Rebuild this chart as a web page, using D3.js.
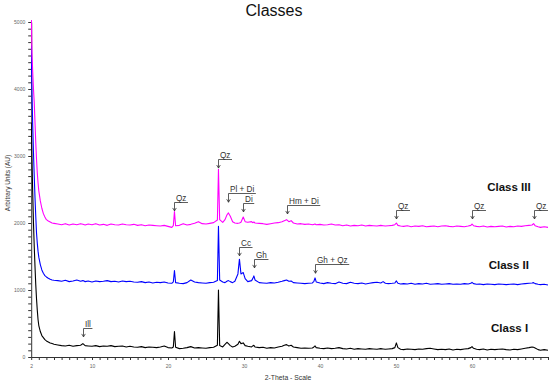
<!DOCTYPE html>
<html>
<head>
<meta charset="utf-8">
<script src="https://cdn.jsdelivr.net/npm/d3@7"></script>
<style>
html,body{margin:0;padding:0;background:#fff;}
svg{display:block;font-family:"Liberation Sans",Arial,sans-serif;}
</style>
</head>
<body>
<svg id="chart" width="550" height="385"></svg>
<script>
// 2-Theta grid (degrees)
const twoTheta = [
2.0,2.1,2.2,2.3,2.4,2.5,2.6,2.7,2.8,2.9,
3.0,3.2,3.4,3.6,3.8,4.0,4.25,4.5,4.75,5.0,
5.5,6.0,6.5,7.0,7.5,8.0,8.5,8.8,9.1,9.5,
10.0,10.5,11.0,11.5,12.0,12.5,13.0,13.5,14.0,14.5,
15.0,15.5,16.0,16.5,17.0,17.5,18.0,18.5,19.0,19.5,
20.0,20.5,20.7,20.85,21.0,21.5,22.0,22.5,23.0,23.5,
24.0,24.5,25.0,25.5,26.0,26.5,26.64,26.8,27.2,27.5,
27.75,27.95,28.2,28.5,28.8,29.2,29.4,29.6,29.9,30.15,
30.5,31.0,31.15,31.3,31.45,32.0,32.5,33.0,33.5,34.0,
34.5,35.0,35.3,35.6,35.9,36.2,36.5,37.0,37.5,38.0,
38.5,39.0,39.2,39.35,39.5,40.0,40.5,41.0,41.5,42.0,
42.5,43.0,43.5,44.0,44.5,45.0,45.5,46.0,46.5,47.0,
47.5,48.0,48.3,48.6,49.0,49.5,49.85,50.05,50.25,50.6,
51.0,51.5,52.0,52.5,53.0,53.5,54.0,54.5,55.0,55.5,
56.0,56.5,57.0,57.5,58.0,58.5,59.0,59.5,59.85,60.0,
60.2,60.6,61.0,61.5,62.0,62.5,63.0,63.5,64.0,64.5,
65.0,65.5,66.0,66.5,67.0,67.5,67.9,68.1,68.3,68.7,
69.0,69.5,70.0
];

const classIII = [
5200,4550,4250,4000,3800,3500,3200,2950,2750,2600,
2480,2330,2220,2140,2090,2050,2030,2015,2000,1995,
1985,1975,1990,1970,1985,1975,1990,1980,1970,1985,
1975,1990,1970,1980,1965,1985,1975,1970,1985,1975,
1970,1980,1965,1975,1960,1970,1965,1960,1955,1965,
1950,1935,1960,2170,1960,1965,1990,1970,1980,1995,
2020,1990,1985,1995,2005,2045,2800,2050,2010,2050,
2120,2150,2100,2020,2000,1995,2000,2010,2090,2020,
2010,2020,2005,2015,2000,1995,1990,1980,1990,2000,
2005,2020,2035,2050,2020,2035,2000,1985,1990,1980,
1985,1975,1980,1985,1975,1980,1970,1975,1985,1970,
1975,1960,1970,1955,1965,1960,1970,1955,1965,1960,
1955,1965,1960,1955,1960,1965,1975,2000,1965,1955,
1950,1960,1945,1955,1950,1960,1945,1950,1955,1945,
1955,1960,1950,1945,1955,1950,1945,1955,1965,1985,
1960,1950,1945,1955,1940,1950,1945,1950,1955,1940,
1950,1945,1955,1950,1960,1965,1970,1990,1960,1945,
1935,1945,1935
];

const classII = [
4650,3950,3450,3050,2700,2380,2100,1850,1700,1580,
1490,1380,1300,1250,1215,1195,1175,1160,1150,1145,
1140,1130,1145,1125,1135,1150,1130,1140,1125,1135,
1120,1135,1125,1130,1140,1125,1130,1120,1135,1125,
1130,1120,1115,1125,1110,1120,1105,1115,1110,1120,
1105,1100,1120,1290,1110,1100,1095,1110,1150,1120,
1110,1105,1100,1110,1115,1140,1950,1150,1120,1110,
1130,1140,1125,1110,1130,1240,1460,1240,1260,1170,
1125,1140,1170,1210,1150,1110,1105,1100,1110,1105,
1115,1130,1140,1150,1130,1135,1110,1105,1100,1095,
1100,1105,1130,1180,1120,1105,1095,1110,1100,1095,
1120,1100,1095,1115,1100,1095,1105,1090,1100,1110,
1115,1105,1125,1100,1095,1100,1105,1135,1100,1090,
1095,1090,1100,1085,1095,1090,1100,1085,1090,1095,
1085,1090,1095,1085,1090,1085,1095,1090,1100,1115,
1095,1085,1090,1080,1090,1085,1080,1090,1085,1080,
1085,1090,1080,1090,1095,1100,1105,1110,1095,1085,
1080,1085,1075
];

const classI = [
3500,2950,2450,2000,1650,1350,1080,870,700,560,
470,380,320,290,260,240,225,210,200,190,
180,170,165,175,160,170,175,200,170,165,
160,170,155,165,160,170,155,160,165,150,
160,150,145,155,140,150,145,140,150,165,
140,135,150,380,145,125,130,140,155,135,
140,135,130,140,145,175,1000,170,150,190,
220,200,170,150,160,190,235,200,210,170,
160,150,165,175,150,140,145,130,140,135,
150,160,175,185,165,175,150,140,130,135,
130,135,150,165,140,130,125,135,125,130,
140,125,120,130,115,125,120,115,125,120,
115,125,120,115,120,125,140,210,140,115,
110,120,115,110,120,115,125,130,120,110,
115,110,120,105,115,110,120,125,140,155,
130,115,110,120,105,115,110,115,120,110,
105,115,110,120,130,140,150,145,135,110,
100,110,100
];

const seriesNames = ["Class I", "Class II", "Class III"];
const seriesColors = ["#000000", "#0000ff", "#ff00ff"];
const seriesValues = [classI, classII, classIII];
const classLabelTheta = [62.5, 62.2, 62.0];
const classLabelValue = [370, 1310, 2480];

const xTickLabels = [2, 10, 20, 30, 40, 50, 60];
const yTickLabels = [0, 1000, 2000, 3000, 4000, 5000];

// phase annotations
const annLabels = ["Ill", "Qz", "Qz", "Pl + Di", "Di", "Hm + Di", "Qz", "Qz", "Qz", "Cc", "Gh", "Gh + Qz"];
const annTheta  = [8.8, 20.8, 26.6, 27.9, 29.9, 35.6, 50.0, 60.0, 68.1, 29.4, 31.3, 39.3];
const annTip    = [300, 2180, 2820, 2310, 2165, 2135, 2060, 2060, 2060, 1510, 1330, 1250];

const svg = d3.select("#chart");
const x = d3.scaleLinear().domain([2, 70]).range([31.2, 548]);
const y = d3.scaleLinear().domain([0, 5000]).range([357, 22]);

// title
svg.append("text").attr("x", 274).attr("y", 16).attr("text-anchor", "middle")
  .attr("font-size", 16).attr("fill", "#111").text("Classes");

// clip
svg.append("clipPath").attr("id", "plotclip").append("rect")
  .attr("x", 31).attr("y", 20).attr("width", 518).attr("height", 337);

// axes
const xAxis = d3.axisBottom(x).tickValues(d3.range(2, 71, 1)).tickSize(3).tickSizeOuter(0)
  .tickFormat(d => xTickLabels.includes(d) ? d : "");
const gx = svg.append("g").attr("transform", `translate(0,${y(0)})`).call(xAxis);
gx.select(".domain").attr("stroke", "#333");
gx.selectAll(".tick line").attr("stroke", "#333");
gx.selectAll(".tick text").attr("font-size", 5).attr("fill", "#666").attr("dy", "0.9em")
  .attr("font-family", "Liberation Sans, Arial, sans-serif");

const yAxis = d3.axisLeft(y).tickValues(d3.range(0, 5001, 100)).tickSize(3).tickSizeOuter(0)
  .tickFormat(d => yTickLabels.includes(d) ? d : "");
const gy = svg.append("g").attr("transform", `translate(${x(2)},0)`).call(yAxis);
gy.select(".domain").attr("stroke", "#333");
gy.selectAll(".tick line").attr("stroke", "#333");
gy.selectAll(".tick text").attr("font-size", 5).attr("fill", "#666").attr("x", -6)
  .attr("font-family", "Liberation Sans, Arial, sans-serif");

// axis titles
svg.append("text").attr("x", 288).attr("y", 380).attr("text-anchor", "middle")
  .attr("font-size", 6.8).attr("fill", "#333").text("2-Theta - Scale");
svg.append("text").attr("transform", "translate(10,183) rotate(-90)").attr("text-anchor", "middle")
  .attr("font-size", 6.5).attr("fill", "#333").text("Arbitrary Units (AU)");

// series lines
const line = d3.line().x((d, i) => x(twoTheta[i])).y(d => y(d));
const plot = svg.append("g").attr("clip-path", "url(#plotclip)");
seriesValues.forEach((vals, k) => {
  plot.append("path").datum(vals).attr("d", line)
    .attr("fill", "none").attr("stroke", seriesColors[k]).attr("stroke-width", 1.1)
    .attr("stroke-linejoin", "round");
});

// class labels
seriesNames.forEach((name, k) => {
  svg.append("text").attr("x", x(classLabelTheta[k])).attr("y", y(classLabelValue[k]))
    .attr("font-size", 11.5).attr("font-weight", "bold").attr("fill", "#111").text(name);
});

// annotations
const ann = svg.append("g");
annLabels.forEach((lab, i) => {
  const ax = Math.round(x(annTheta[i])) + 0.5;
  const ty = y(annTip[i]);
  const ly = Math.round(ty - 9) + 0.5;
  const t = ann.append("text").attr("x", ax + 1.5).attr("y", ly - 2)
    .attr("font-size", 8.2).attr("fill", "#333").text(lab);
  const w = t.node().getComputedTextLength();
  ann.append("path").attr("d", `M${ax},${ty} L${ax},${ly} L${ax + w + 3},${ly}`)
    .attr("fill", "none").attr("stroke", "#333").attr("stroke-width", 0.8);
  ann.append("path").attr("d", `M${ax - 1.8},${ty - 3} L${ax},${ty} L${ax + 1.8},${ty - 3}`)
    .attr("fill", "none").attr("stroke", "#333").attr("stroke-width", 0.8);
});
</script>
</body>
</html>
